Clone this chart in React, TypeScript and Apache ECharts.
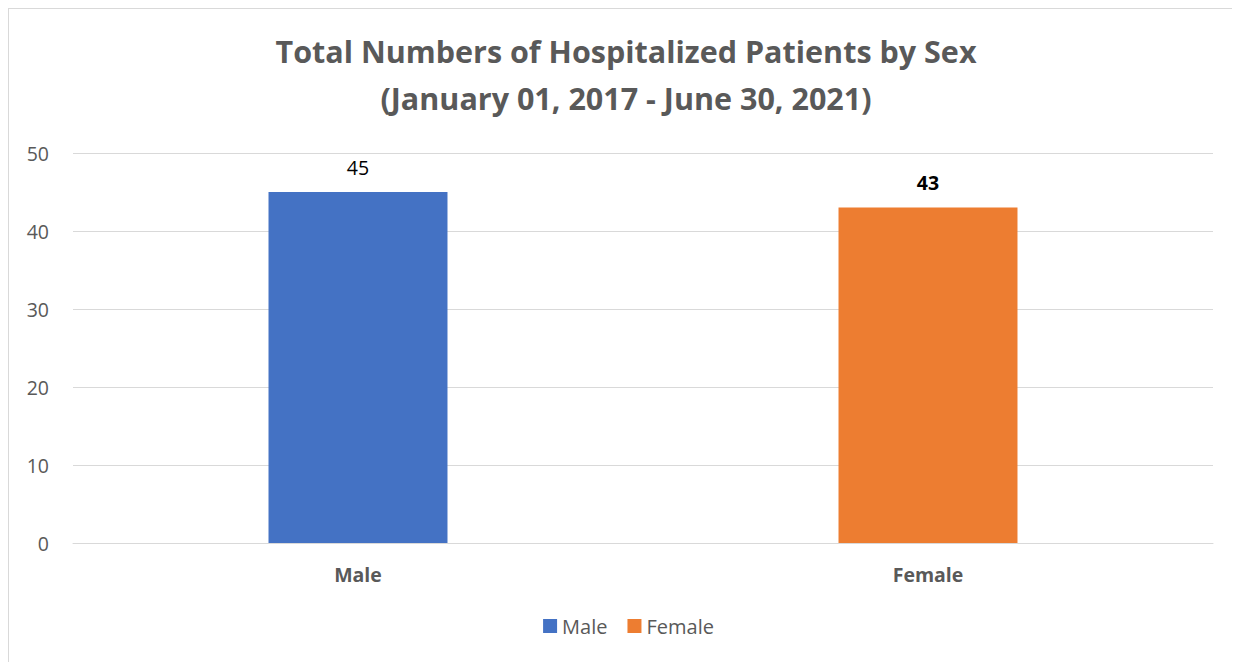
import React, { useEffect, useRef } from "react";
import * as echarts from "echarts";

const categories = ["Male", "Female"];
const values = [45, 43];
const colors = ["#4472C4", "#ED7D31"];
const yTicks = { min: 0, max: 50, interval: 10 };

export default function App() {
  const ref = useRef<HTMLDivElement>(null);
  useEffect(() => {
    document.body.style.overflow = "hidden";
    if (!ref.current) return;
    const chart = echarts.init(ref.current, null, { renderer: "svg" });
    const font = "'Open Sans', 'Noto Sans', sans-serif";
    chart.setOption({
      animation: false,
      backgroundColor: "#ffffff",
      title: {
        text: "Total Numbers of Hospitalized Patients by Sex\n(January 01, 2017 - June 30, 2021)",
        left: 620 - 8,
        textAlign: "center",
        top: 13,
        textStyle: {
          fontFamily: font,
          fontSize: 30.5,
          fontWeight: "bold",
          color: "#595959",
          lineHeight: 47,
        },
      },
      legend: {
        bottom: 21,
        left: "center",
        itemWidth: 14,
        itemHeight: 14,
        itemGap: 20,
        icon: "rect",
        textStyle: { fontFamily: font, fontSize: 20, color: "#595959" },
        data: categories,
      },
      grid: { left: 64, right: 35, top: 144, bottom: 119, containLabel: false },
      xAxis: {
        type: "category",
        data: categories,
        axisLine: { show: true, lineStyle: { color: "#d9d9d9", width: 1 } },
        axisTick: { show: false },
        axisLabel: {
          fontFamily: font,
          fontSize: 19.5,
          fontWeight: "bold",
          color: "#595959",
          margin: 21,
        },
      },
      yAxis: {
        type: "value",
        min: yTicks.min,
        max: yTicks.max,
        interval: yTicks.interval,
        axisLine: { show: false },
        axisTick: { show: false },
        splitLine: { lineStyle: { color: "#d9d9d9", width: 1 } },
        axisLabel: { fontFamily: font, fontSize: 19.5, color: "#595959", margin: 24 },
      },
      series: categories.map((c, i) => ({
        name: c,
        type: "bar",
        stack: "all",
        barWidth: "31.4%",
        data: categories.map((_, j) => (j === i ? values[i] : null)),
        itemStyle: { color: colors[i] },
        label: {
          show: true,
          position: "top",
          distance: 15,
          fontFamily: font,
          fontSize: 19.5,
          color: "#000000",
          fontWeight: i === 1 ? "bold" : "normal",
        },
      })),
    });
    return () => chart.dispose();
  }, []);
  return (
    <div
      ref={ref}
      style={{
        width: 1240,
        height: 654,
        borderLeft: "1px solid #d9d9d9",
        borderTop: "1px solid #d9d9d9",
        boxSizing: "border-box",
      }}
    />
  );
}
